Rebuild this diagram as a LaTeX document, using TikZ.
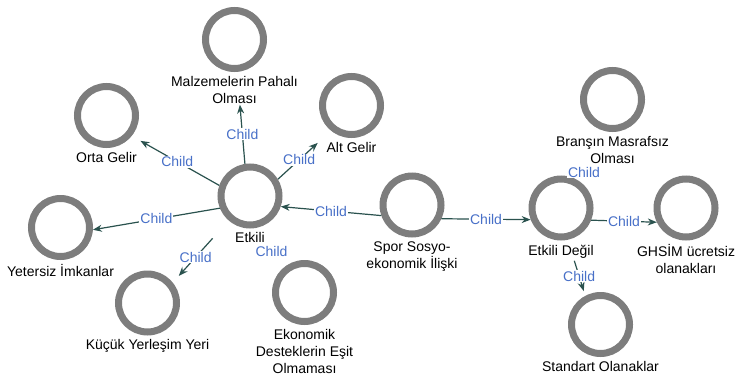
\documentclass[tikz,border=0pt]{standalone}
\usepackage{fontspec}
\setmainfont{Liberation Sans}
\usepackage{tikz}
\usetikzlibrary{arrows.meta,positioning}
\definecolor{ringgray}{RGB}{125,125,125}
\definecolor{edgeteal}{RGB}{42,82,78}
\definecolor{childblue}{RGB}{72,112,200}

\begin{document}
\begin{tikzpicture}[
    x=1pt, y=-1pt,
    font=\fontsize{14}{17}\selectfont,
    vert/.style={circle, draw=ringgray, line width=7pt, minimum size=58pt, inner sep=0pt, outer sep=3.5pt},
    txt/.style={align=center, inner sep=1pt},
    lbl/.style={fill=white, text=childblue, inner sep=1pt},
    arr/.style={-{Stealth[length=9pt, width=7pt]}, draw=edgeteal, line width=1.2pt},
]
    \useasboundingbox (0,0) rectangle (735,375);

    % Vertices
    \node[vert] (malz) at (234.5, 39.5) {};
    \node[vert] (orta) at (106.5, 115.5) {};
    \node[vert] (alt) at (351.5, 105.5) {};
    \node[vert] (etkili) at (250, 196) {};
    \node[vert] (yetersiz) at (60.5, 227.5) {};
    \node[vert] (kucuk) at (147.5, 303) {};
    \node[vert] (ekon) at (304.5, 292.5) {};
    \node[vert] (spor) at (412, 205) {};
    \node[vert] (ed) at (561, 208) {};
    \node[vert] (bransin) at (612.5, 99.5) {};
    \node[vert] (ghsim) at (686, 208) {};
    \node[vert] (standart) at (600.5, 324.5) {};

    % Vertex names
    \node[txt, below=3pt of malz] (malz-t) {Malzemelerin Pahalı\\Olması};
    \node[txt, below=3pt of orta] (orta-t) {Orta Gelir};
    \node[txt, below=3pt of alt] (alt-t) {Alt Gelir};
    \node[txt, below=3pt of etkili] (etkili-t) {Etkili};
    \node[txt, below=3pt of yetersiz] (yetersiz-t) {Yetersiz İmkanlar};
    \node[txt, below=3pt of kucuk] (kucuk-t) {Küçük Yerleşim Yeri};
    \node[txt, below=3pt of ekon] (ekon-t) {Ekonomik\\Desteklerin Eşit\\Olmaması};
    \node[txt, below=3pt of spor] (spor-t) {Spor Sosyo-\\ekonomik İlişki};
    \node[txt, below=3pt of ed] (ed-t) {Etkili Değil};
    \node[txt, below=3pt of bransin] (bransin-t) {Branşın Masrafsız\\Olması};
    \node[txt, below=3pt of ghsim] (ghsim-t) {GHSİM ücretsiz\\olanakları};
    \node[txt, below=3pt of standart] (standart-t) {Standart Olanaklar};

    % Edges
    \draw[arr] (etkili.99) -- node[lbl] {Child} (malz-t.-70);
    \draw[arr, shorten >=10pt] (etkili.161) -- node[lbl, pos=0.48] {Child} (orta.321);
    \draw[arr, shorten >=18pt] (etkili.31) -- node[lbl, pos=0.4] {Child} (alt.231);
    \draw[arr] (etkili.202) -- node[lbl] {Child} (yetersiz.356);
    \draw[arr, shorten <=24pt, shorten >=9pt] (etkili.229) -- node[lbl, pos=0.59] {Child} (kucuk.39);
    \path (etkili) -- node[lbl, pos=0.69, xshift=-10pt] {Child} (ekon);
    \draw[arr] (spor.199) -- node[lbl] {Child} (etkili.341);
    \draw[arr] (spor.335) -- node[lbl] {Child} (ed.201);
    \draw[arr] (ed.338) -- node[lbl] {Child} (ghsim.206);
    \draw[arr, shorten <=22pt, shorten >=5pt] (ed.282) -- node[lbl, pos=0.65] {Child} (standart.118);
    \path (ed) -- node[lbl, pos=0.13, xshift=6pt] {Child} (bransin);
\end{tikzpicture}
\end{document}
